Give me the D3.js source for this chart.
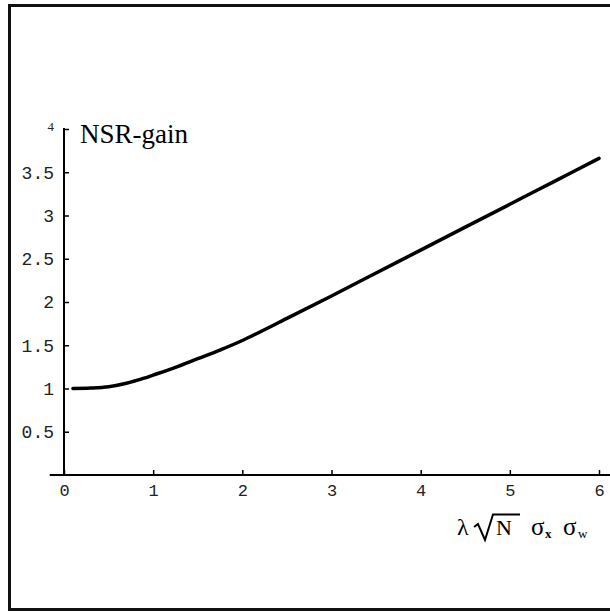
<!DOCTYPE html>
<html>
<head>
<meta charset="utf-8">
<script src="https://cdn.jsdelivr.net/npm/d3@7.9.0/dist/d3.min.js"></script>
<style>
  body { margin: 0; background: #fff; }
  svg { display: block; }
</style>
</head>
<body>
<svg width="610" height="612"></svg>
<script>
// curve
const xs = [0.1, 0.3, 0.5, 0.7, 0.9, 1.0, 1.25, 1.5, 1.75, 2.0, 2.5, 3.0, 3.5, 4.0, 4.5, 5.0, 5.5, 6.0];
const gain = [1.0, 1.005, 1.02, 1.06, 1.12, 1.155, 1.245, 1.345, 1.445, 1.555, 1.81, 2.07, 2.335, 2.60, 2.865, 3.13, 3.395, 3.66];

const xTicks = [0, 1, 2, 3, 4, 5, 6];
const yTicks = [0.5, 1, 1.5, 2, 2.5, 3, 3.5, 4];
const yLabels = ['0.5', '1', '1.5', '2', '2.5', '3', '3.5', '4'];

let svg = d3.select('svg');

// frame (left, top, bottom edges visible)
svg.append('path')
  .attr('d', 'M612,5.5 H9.5 V609.5 H612')
  .attr('fill', 'none')
  .attr('stroke', '#111')
  .attr('stroke-width', 3);

let x = d3.scaleLinear().domain([0, 6]).range([64, 599]);
let y = d3.scaleLinear().domain([0, 4]).range([475, 129]);

let minorX = d3.range(0, 6.01, 0.2).filter(v => Math.abs(v - Math.round(v)) > 1e-6);
let minorY = d3.range(0.1, 4.01, 0.1).filter(v => Math.abs(v * 2 - Math.round(v * 2)) > 1e-6);

// x axis
let gx = svg.append('g').attr('transform', `translate(0,${y(0)})`);
gx.call(d3.axisBottom(x).tickValues(minorX).tickSize(-2.5).tickFormat(''));
gx.call(d3.axisBottom(x).tickValues(xTicks).tickSize(-5).tickPadding(9).tickFormat(d3.format('d')));
gx.selectAll('.domain').remove();
gx.append('line')
  .attr('x1', x(-0.16)).attr('x2', 610)
  .attr('stroke', '#000').attr('stroke-width', 2);
gx.selectAll('.tick line').attr('stroke', '#000').attr('stroke-width', 1.5);
gx.selectAll('.tick text')
  .attr('font-family', '"Liberation Mono", monospace')
  .attr('font-size', 17)
  .attr('fill', '#222');

// y axis
let gy = svg.append('g').attr('transform', `translate(${x(0)},0)`);
gy.call(d3.axisLeft(y).tickValues(minorY).tickSize(-2.5).tickFormat(''));
gy.call(d3.axisLeft(y).tickValues(yTicks).tickSize(-5).tickPadding(10)
  .tickFormat((d, i) => yLabels[i]));
gy.selectAll('.domain').remove();
gy.append('line')
  .attr('y1', y(0)).attr('y2', y(4) - 1)
  .attr('stroke', '#000').attr('stroke-width', 2);
gy.selectAll('.tick line').attr('stroke', '#000').attr('stroke-width', 1.5);
gy.selectAll('.tick text')
  .attr('font-family', '"Liberation Mono", monospace')
  .attr('font-size', 18)
  .attr('fill', '#222');
// top label sits smaller, nudged up
gy.selectAll('.tick text').filter(d => d === 4)
  .attr('font-family', '"Liberation Serif", serif')
  .attr('font-size', 13)
  .attr('dy', '0.1em');

// curve
let line = d3.line()
  .x((d, i) => x(xs[i]))
  .y(d => y(d))
  .curve(d3.curveCatmullRom);

svg.append('path')
  .datum(gain)
  .attr('d', line)
  .attr('fill', 'none')
  .attr('stroke', '#000')
  .attr('stroke-width', 3.5)
  .attr('stroke-linecap', 'round');

// axis titles
svg.append('text')
  .attr('x', 80).attr('y', 143)
  .attr('font-family', '"Liberation Serif", serif')
  .attr('font-size', 27)
  .text('NSR-gain');

let lab = svg.append('g')
  .attr('font-family', '"Liberation Serif", serif')
  .attr('fill', '#000');
lab.append('text').attr('x', 457).attr('y', 535).attr('font-size', 24).text('λ');
// radical sign
lab.append('path')
  .attr('d', 'M474,527 L478,524 L485,540 L493,514.5 L520,514.5')
  .attr('fill', 'none').attr('stroke', '#000').attr('stroke-width', 2);
lab.append('text').attr('x', 496).attr('y', 535).attr('font-size', 22).text('N');
lab.append('text').attr('x', 531).attr('y', 535).attr('font-size', 25).text('σ');
lab.append('text').attr('x', 545).attr('y', 538).attr('font-size', 13).attr('font-weight', 'bold').text('x');
lab.append('text').attr('x', 563).attr('y', 535).attr('font-size', 25).text('σ');
lab.append('text').attr('x', 578).attr('y', 538).attr('font-size', 13).text('w');
</script>
</body>
</html>
